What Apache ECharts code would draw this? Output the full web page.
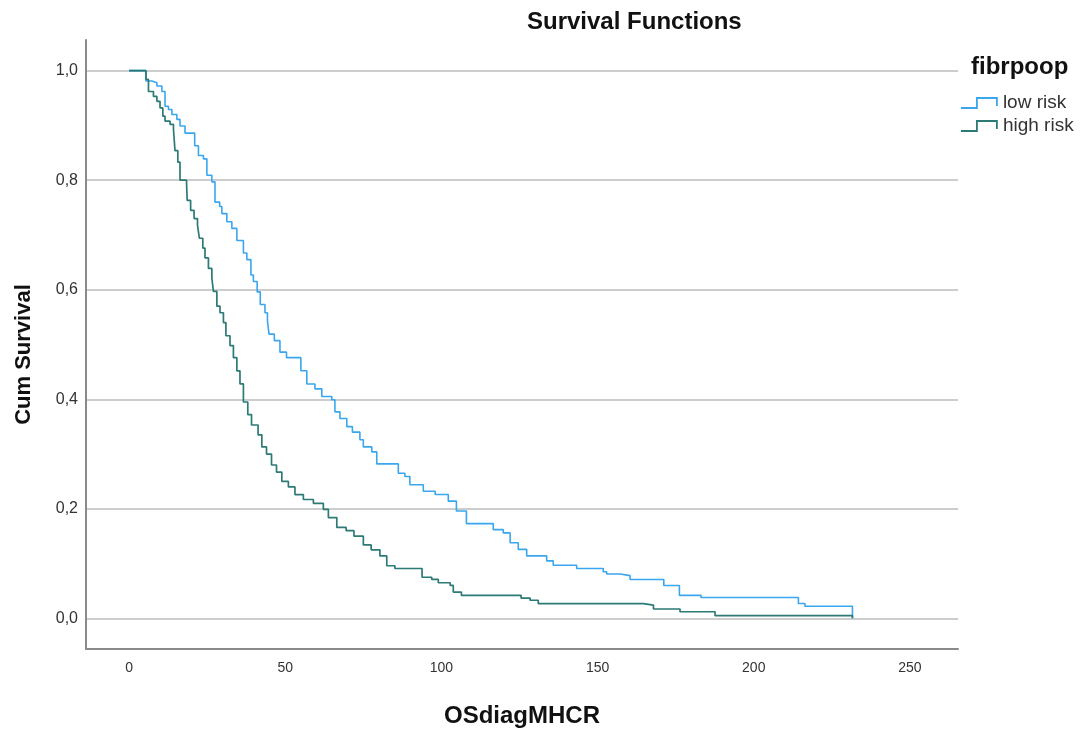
<!DOCTYPE html>
<html>
<head>
<meta charset="utf-8">
<title>Survival Functions</title>
<script src="https://cdn.jsdelivr.net/npm/echarts@6/dist/echarts.min.js"></script>
<style>
  html, body { margin: 0; padding: 0; background: #fff; }
  #main { width: 1083px; height: 733px; }
</style>
</head>
<body>
<div id="main"></div>
<script>
// group names
const groups = ['low risk', 'high risk']

// low risk: time (months) and cumulative survival after each step
const lowTimes = [0, 5.4, 7.3, 8.9, 10.5, 11.5, 12.6, 13.7, 15.3, 16.3, 17.9, 21.0, 22.2, 23.8, 24.9, 26.5,
  27.5, 29.0, 29.7, 31.3, 32.9, 34.5, 36.6, 37.7, 39.0, 39.8, 41.0, 42.0, 43.5, 44.3, 44.8, 46.5, 48.3,
  50.4, 55.0, 56.9, 59.5, 61.7, 64.9, 65.9, 67.5, 69.7, 71.5, 73.9, 75.0, 77.7, 79.3, 86.2, 88.3, 89.9,
  94.2, 98.0, 102.2, 104.8, 108.0, 116.6, 119.8, 122.0, 124.6, 127.3, 133.7, 135.8, 143.3, 151.8, 152.9,
  157.2, 160.4, 171.2, 176.2, 183.1, 214.3, 216.4, 231.6]
const lowSurv = [1.0, 0.981, 0.978, 0.972, 0.962, 0.935, 0.929, 0.920, 0.911, 0.899, 0.886, 0.863, 0.845, 0.839, 0.809, 0.797,
  0.760, 0.752, 0.739, 0.724, 0.712, 0.690, 0.667, 0.655, 0.627, 0.615, 0.596, 0.573, 0.558, 0.543, 0.519, 0.507, 0.486,
  0.476, 0.452, 0.428, 0.419, 0.405, 0.399, 0.377, 0.365, 0.350, 0.340, 0.326, 0.313, 0.304, 0.282, 0.265, 0.259, 0.244,
  0.232, 0.226, 0.214, 0.196, 0.173, 0.162, 0.156, 0.138, 0.126, 0.114, 0.105, 0.097, 0.091, 0.085, 0.081,
  0.078, 0.071, 0.060, 0.042, 0.038, 0.027, 0.022, 0.0]

// high risk
const highTimes = [0, 5.4, 6.2, 7.8, 8.9, 9.9, 10.8, 11.5, 13.1, 14.2, 14.7, 15.6, 16.3, 18.4, 18.6, 19.7,
  20.8, 21.9, 22.5, 23.6, 24.3, 25.4, 26.5, 27.0, 28.1, 29.1, 30.2, 31.0, 32.3, 33.4, 34.5, 35.5, 36.6,
  38.0, 39.2, 41.3, 42.5, 44.0, 45.6, 47.2, 48.9, 51.0, 53.1, 55.8, 59.0, 62.2, 63.8, 66.5, 69.5, 72.0,
  75.0, 77.5, 80.3, 82.5, 85.1, 93.8, 96.9, 99.0, 102.8, 103.8, 106.4, 125.5, 128.4, 131.0, 164.6, 167.9,
  176.4, 187.6, 231.6]
const highSurv = [1.0, 0.984, 0.962, 0.953, 0.944, 0.932, 0.917, 0.908, 0.902, 0.893, 0.854, 0.833, 0.800, 0.793, 0.763, 0.745,
  0.730, 0.718, 0.694, 0.676, 0.658, 0.639, 0.621, 0.597, 0.570, 0.558, 0.540, 0.516, 0.498, 0.476, 0.452, 0.428, 0.395,
  0.372, 0.353, 0.335, 0.313, 0.300, 0.280, 0.267, 0.250, 0.240, 0.226, 0.217, 0.210, 0.199, 0.184, 0.166, 0.160, 0.150,
  0.134, 0.125, 0.114, 0.096, 0.091, 0.075, 0.071, 0.065, 0.060, 0.048, 0.042, 0.037, 0.033, 0.027, 0.024, 0.017,
  0.012, 0.005, 0.0]

const colors = ['#3aa6ef', '#2c7a76']
const font = '"Liberation Sans", Arial, sans-serif'

const pairs = (xs, ys) => xs.map((x, i) => [x, ys[i]])

const myChart = echarts.init(document.querySelector('#main'))
myChart.setOption({
  animation: false,
  color: colors,
  title: [
    {
      text: 'Survival Functions',
      left: 522,
      top: 5,
      textStyle: { fontFamily: font, fontSize: 24, fontWeight: 'bold', color: '#111' }
    },
    {
      // legend heading
      text: 'fibrpoop',
      left: 966,
      top: 50,
      textStyle: { fontFamily: font, fontSize: 24, fontWeight: 'bold', color: '#111' }
    }
  ],
  legend: {
    orient: 'vertical',
    left: 955,
    top: 88,
    itemWidth: 38,
    itemHeight: 10,
    itemGap: 3,
    icon: 'path://M0,10 L16,10 L16,0 L36,0 L36,8',
    textStyle: { fontFamily: font, fontSize: 19, lineHeight: 20, color: '#333' },
    data: groups.map((g, i) => ({
      name: g,
      itemStyle: { color: 'transparent', borderColor: colors[i], borderWidth: 1.8 }
    }))
  },
  grid: { left: 86, right: 125, top: 40, bottom: 79 },
  xAxis: {
    type: 'value',
    min: -13.8,
    max: 265.4,
    name: 'OSdiagMHCR',
    nameLocation: 'middle',
    nameGap: 55,
    nameTextStyle: { fontFamily: font, fontSize: 24, fontWeight: 'bold', color: '#111' },
    axisLine: { onZero: false, lineStyle: { color: '#8a8a8a', width: 2 } },
    axisTick: { show: false },
    splitLine: { show: false },
    axisLabel: {
      fontFamily: font, fontSize: 14, color: '#333', margin: 12,
      formatter: v => (Math.abs(v % 50) < 1e-6 ? String(v) : '')
    }
  },
  yAxis: {
    type: 'value',
    min: -0.056,
    max: 1.056,
    name: 'Cum Survival',
    nameLocation: 'middle',
    nameGap: 51,
    nameTextStyle: { fontFamily: font, fontSize: 22, fontWeight: 'bold', color: '#111', padding: [0, 20, 0, 0] },
    axisLine: { show: true, onZero: false, lineStyle: { color: '#8a8a8a', width: 2 } },
    axisTick: { show: false },
    splitLine: { showMinLine: false, showMaxLine: false, lineStyle: { color: '#bdbdbd', width: 1.5 } },
    axisLabel: {
      fontFamily: font, fontSize: 16, color: '#333', margin: 8,
      formatter: v => (Math.abs(v * 5 - Math.round(v * 5)) < 1e-6 ? v.toFixed(1).replace('.', ',') : '')
    }
  },
  series: [
    {
      name: groups[0],
      type: 'line',
      step: 'end',
      showSymbol: false,
      lineStyle: { width: 1.6 },
      data: pairs(lowTimes, lowSurv)
    },
    {
      name: groups[1],
      type: 'line',
      step: 'end',
      showSymbol: false,
      lineStyle: { width: 1.7 },
      data: pairs(highTimes, highSurv)
    }
  ]
})
</script>
</body>
</html>
